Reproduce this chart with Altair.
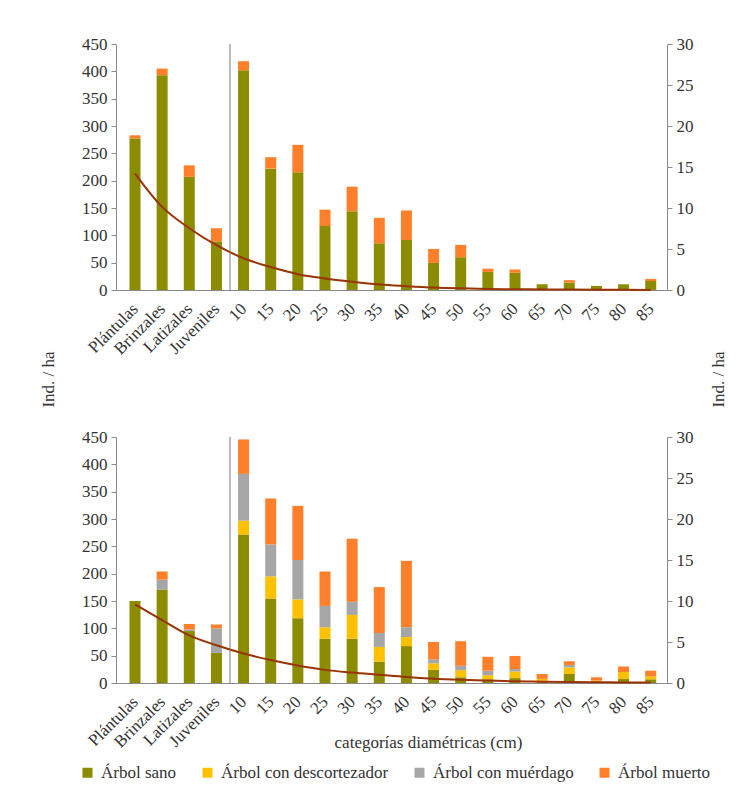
import altair as alt
import pandas as pd

FONT = "Liberation Serif, Times New Roman, Times, serif"

categories = ["Plántulas", "Brinzales", "Latizales", "Juveniles",
              "10", "15", "20", "25", "30", "35", "40", "45", "50",
              "55", "60", "65", "70", "75", "80", "85"]
regen_cats = categories[:4]
diam_cats = categories[4:]

states = ["Árbol sano", "Árbol con descortezador", "Árbol con muérdago", "Árbol muerto"]
state_colors = ["#8C8C00", "#FFC000", "#A6A6A6", "#FF7F2A"]
curve_color = "#993300"

# separator between regeneration and diameter classes (position index)
separator = [3.5]

# ---- top panel ----
top_regen_sano = [277, 393, 207, 89]          # Ind./ha (left axis)
top_regen_muerto = [6, 12, 21, 24]
top_diam_sano = [26.8, 14.8, 14.35, 7.8, 9.6, 5.7, 6.1, 3.3, 4.0, 2.2, 2.1, 0.7, 0.9, 0.5, 0.7, 1.1]   # right axis
top_diam_muerto = [1.1, 1.4, 3.35, 2.0, 3.0, 3.1, 3.6, 1.7, 1.5, 0.4, 0.4, 0.0, 0.3, 0.0, 0.0, 0.25]
top_curve = [213, 152, 113, 82, 58, 42, 29, 21, 15, 10, 7, 4.5, 3, 2, 1.4, 1, 0.7, 0.5, 0.3, 0.2]

# ---- bottom panel ----
bot_regen_sano = [150, 171, 95, 55]
bot_regen_desc = [0, 0, 0, 0]
bot_regen_muerdago = [0, 18, 3, 45]
bot_regen_muerto = [0, 15, 10, 7]
bot_diam_sano = [18.1, 10.3, 7.9, 5.4, 5.4, 2.6, 4.5, 1.6, 0.7, 0.45, 0.6, 0.1, 1.1, 0.0, 0.5, 0.45]
bot_diam_desc = [1.7, 2.7, 2.3, 1.4, 2.9, 1.8, 1.1, 0.8, 0.85, 0.5, 0.8, 0.4, 0.8, 0.3, 0.85, 0.35]
bot_diam_muerdago = [5.7, 3.9, 4.8, 2.6, 1.6, 1.7, 1.2, 0.5, 0.55, 0.55, 0.3, 0.0, 0.3, 0.0, 0.0, 0.0]
bot_diam_muerto = [4.2, 5.6, 6.6, 4.2, 7.7, 5.6, 8.1, 2.1, 3.0, 1.7, 1.6, 0.6, 0.45, 0.4, 0.65, 0.7]
bot_curve = [144, 115, 87, 69, 54, 42, 32, 24, 19, 15, 11, 8, 6, 4.5, 3, 2.5, 2, 1.5, 1, 0.8]


def stack_df(cats, series):
    rows = []
    for state, vals in series:
        for c, v in zip(cats, vals):
            rows.append({"pos": categories.index(c), "cat": c, "state": state,
                         "order": states.index(state), "value": v})
    return pd.DataFrame(rows)


def curve_df(vals):
    return pd.DataFrame({"pos": list(range(len(categories))), "value": vals})


label_expr = "[" + ",".join("'" + c + "'" for c in categories) + "][datum.value]"

W, H = 551, 246
AX_COLOR = "#8a8a8a"
TXT = "#333333"


def make_panel(regen_df, diam_df, curve_vals, left_title, x_title, legend):
    x_axis = dict(values=list(range(len(categories))), labelExpr=label_expr,
                  labelAngle=315, labelAlign="right", labelBaseline="middle",
                  labelPadding=16, ticks=False, grid=False, labelFontSize=17,
                  labelColor=TXT, domainColor=AX_COLOR, labelOverlap=False,
                  labelFont=FONT)
    if x_title:
        x_axis.update(title=x_title, titleX=312, titleY=59, titleBaseline="middle",
                      titleFontSize=17, titleFontWeight="normal", titleColor=TXT,
                      titleFont=FONT)
    else:
        x_axis.update(title=None)
    x = alt.X("pos:Q", scale=alt.Scale(domain=[-0.7, 19.6], nice=False, zero=False, padding=0),
              axis=alt.Axis(**x_axis))

    y_common = dict(grid=False, tickSize=5, tickColor=AX_COLOR, domainColor=AX_COLOR,
                    labelFontSize=17, labelColor=TXT, labelPadding=4, labelFont=FONT)
    left_axis = dict(orient="left", values=list(range(0, 451, 50)), **y_common)
    right_axis = dict(orient="right", values=list(range(0, 31, 5)), **y_common)
    if left_title:
        ttl = dict(title="Ind. / ha", titleAngle=270, titleBaseline="middle",
                   titleFontSize=17, titleFontWeight="normal", titleColor=TXT,
                   titleFont=FONT, titleY=335)
        left_axis.update(ttl, titleX=-68)
        right_axis.update(ttl, titleX=51)
    else:
        left_axis.update(title=None)
        right_axis.update(title=None)

    color = alt.Color("state:N", scale=alt.Scale(domain=states, range=state_colors),
                      legend=legend)
    order = alt.Order("order:Q")

    regen = alt.Chart(regen_df).mark_bar(size=11).encode(
        x=x,
        y=alt.Y("value:Q", stack="zero", scale=alt.Scale(domain=[0, 450], nice=False),
                axis=alt.Axis(**left_axis)),
        color=color, order=order)
    diam = alt.Chart(diam_df).mark_bar(size=11).encode(
        x=x,
        y=alt.Y("value:Q", stack="zero", scale=alt.Scale(domain=[0, 30], nice=False),
                axis=alt.Axis(**right_axis)),
        color=color, order=order)
    curve = alt.Chart(curve_df(curve_vals)).mark_line(
        color=curve_color, strokeWidth=2, interpolate="monotone").encode(
        x=x,
        y=alt.Y("value:Q", scale=alt.Scale(domain=[0, 450], nice=False), axis=None))
    rule = alt.Chart(pd.DataFrame({"pos": separator})).mark_rule(
        color="#7a7a7a", strokeWidth=1).encode(x=x)

    return alt.layer(regen, diam, curve, rule).resolve_scale(y="independent").properties(
        width=W, height=H)


top = make_panel(
    stack_df(regen_cats, [("Árbol sano", top_regen_sano), ("Árbol muerto", top_regen_muerto)]),
    stack_df(diam_cats, [("Árbol sano", top_diam_sano), ("Árbol muerto", top_diam_muerto)]),
    top_curve, True, None, None)

legend = alt.Legend(orient="none", legendX=-37, legendY=327, direction="horizontal",
                    title=None, symbolType="square", symbolSize=100, labelFontSize=17,
                    labelFont=FONT, labelColor=TXT, columnPadding=22, labelOffset=5,
                    labelLimit=400, symbolStrokeWidth=0)

bottom = make_panel(
    stack_df(regen_cats, [("Árbol sano", bot_regen_sano), ("Árbol con descortezador", bot_regen_desc),
                          ("Árbol con muérdago", bot_regen_muerdago), ("Árbol muerto", bot_regen_muerto)]),
    stack_df(diam_cats, [("Árbol sano", bot_diam_sano), ("Árbol con descortezador", bot_diam_desc),
                         ("Árbol con muérdago", bot_diam_muerdago), ("Árbol muerto", bot_diam_muerto)]),
    bot_curve, False, "categorías diamétricas (cm)", legend)

chart = alt.vconcat(top, bottom, spacing=20).resolve_scale(
    color="independent").resolve_legend(color="independent").properties(
    padding={"left": 31, "top": 27, "right": 0, "bottom": 5}
).configure(font=FONT).configure_view(stroke=None)

chart.save("out.html", embed_options={"renderer": "svg", "actions": False})
